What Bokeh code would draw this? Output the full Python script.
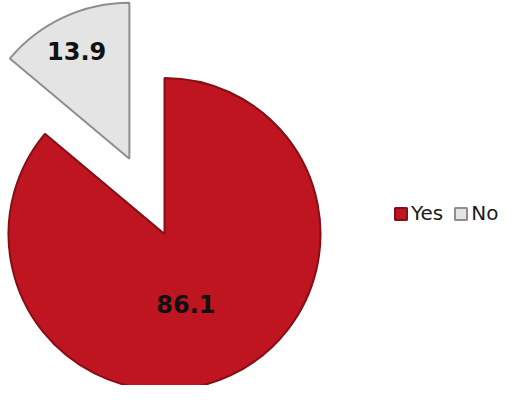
import numpy as np
from bokeh.plotting import figure
from bokeh.models import ColumnDataSource, Range1d
from bokeh.core.properties import value
from bokeh.embed import file_html
from bokeh.resources import INLINE

# ---- data ----
categories = ["Yes", "No"]
values = [86.1, 13.9]
labels = ["86.1", "13.9"]

# ---- style ----
colors = ["#BE1520", "#E4E4E4"]
edge_colors = ["#860E15", "#8E8E8E"]
explode_px = [0.0, 83.0]        # how far each slice is pulled out
label_frac = [0.47, 0.77]       # label distance, fraction of radius
label_turn = [-8.0, 1.0]        # small angular nudge of labels (deg)

W, H = 499, 385
cx, cy = 164, 151.5
R = 156

vals = np.array(values, dtype=float)
frac = vals / vals.sum()
cum = np.concatenate([[0.0], np.cumsum(frac)])
start = np.deg2rad(90 - 360 * cum[:-1])
end = np.deg2rad(90 - 360 * cum[1:])
mid = (start + end) / 2
ex = np.array(explode_px)
xs = cx + ex * np.cos(mid)
ys = cy + ex * np.sin(mid)
la = mid + np.deg2rad(label_turn)
lf = np.array(label_frac)
lx = xs + R * lf * np.cos(la)
ly = ys + R * lf * np.sin(la)

src = ColumnDataSource(dict(x=xs, y=ys, start=start, end=end, color=colors,
                            edge=edge_colors, cat=categories, lx=lx, ly=ly,
                            lab=labels))

p = figure(width=W, height=H, output_backend="svg", toolbar_location=None,
           x_range=Range1d(0, W), y_range=Range1d(0, H), min_border=0)
p.axis.visible = False
p.grid.visible = False
p.outline_line_color = None

p.wedge(x="x", y="y", radius=R, start_angle="start", end_angle="end",
        direction="clock", fill_color="color", line_color="edge",
        line_width=2, legend_field="cat", source=src)

p.text(x="lx", y="ly", text="lab", source=src, text_align="center",
       text_baseline="middle", text_font=value("DejaVu Sans"),
       text_font_style="bold", text_font_size="24px", text_color="#111111")

lg = p.legend[0]
lg.location = (393, 160)
lg.orientation = "horizontal"
lg.glyph_width = 15
lg.glyph_height = 15
lg.label_text_font = "DejaVu Sans"
lg.label_text_font_size = "20px"
lg.label_text_color = "#1a1a1a"
lg.label_standoff = 3
lg.spacing = 10
lg.padding = 0
lg.margin = 0
lg.background_fill_alpha = 0
lg.border_line_alpha = 0

open("out.html", "w").write(file_html(p, INLINE))
